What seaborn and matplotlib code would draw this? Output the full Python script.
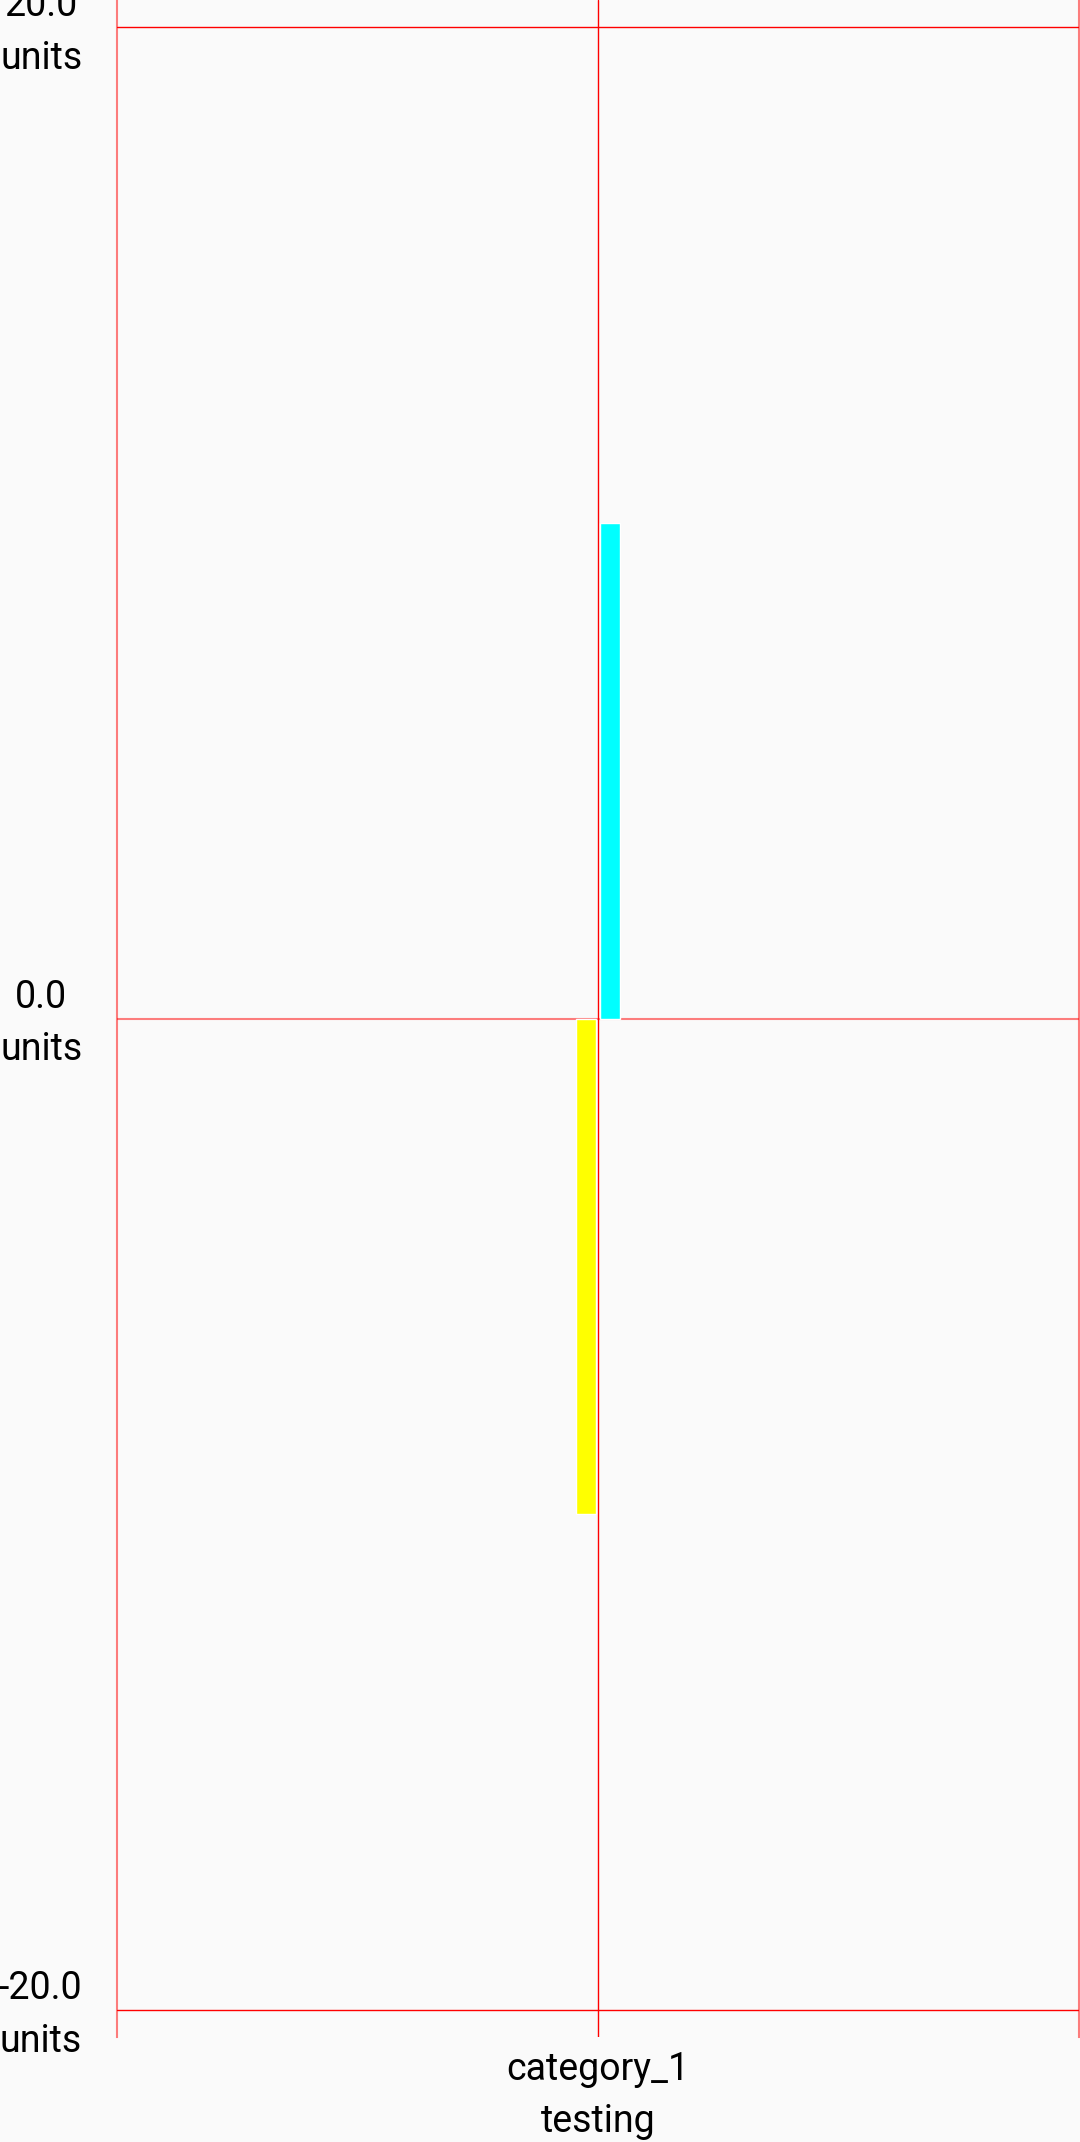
import pandas as pd
import matplotlib
matplotlib.use("Agg")
import matplotlib.pyplot as plt
import matplotlib.transforms as mtransforms
import seaborn as sns

# data
categories = ["category_1"]
series_names = ["series_1", "series_2"]
series_values = [-10.0, 10.0]
series_colors = ["#FFFF00", "#00FFFF"]
y_ticks = [-20.0, 0.0, 20.0]
y_unit = "units"
x_sublabel = "testing"

BG = "#FAFAFA"
GRID = "#FF0000"


def main():
    df = pd.DataFrame(
        {
            "category": categories * len(series_names),
            "series": series_names,
            "value": series_values,
        }
    )

    sns.set_theme(style="white")
    plt.rcParams["font.family"] = ["Roboto", "DejaVu Sans"]

    fig = plt.figure(figsize=(10.8, 21.42), dpi=100, facecolor=BG)
    ax = fig.add_axes([117 / 1080, 105 / 2142, 962 / 1080, 2037 / 2142])
    ax.set_facecolor(BG)

    sns.barplot(
        data=df,
        x="category",
        y="value",
        hue="series",
        hue_order=series_names,
        palette=series_colors,
        saturation=1,
        width=0.05,
        gap=0.2,
        legend=False,
        ax=ax,
    )

    ax.set_xlim(-0.5, 0.5)
    ax.set_ylim(-20.545, 20.545)
    ax.set_yticks(y_ticks)
    ax.set_yticklabels([f"{v:.1f}\n{y_unit}" for v in y_ticks])
    ax.set_xticks(range(len(categories)))
    ax.set_xticklabels([f"{c}\n{x_sublabel}" for c in categories])
    ax.set_xlabel("")
    ax.set_ylabel("")
    ax.tick_params(axis="y", length=0, pad=25)
    ax.tick_params(axis="x", length=0, pad=10)

    for lab in ax.get_yticklabels() + ax.get_xticklabels():
        lab.set_multialignment("center")
        lab.set_linespacing(1.53)
        lab.set_fontsize(27)
        lab.set_color("black")
    # nudge the y labels down a little so the block sits on the tick
    shift = mtransforms.ScaledTranslation(0, -3.5 / 72, fig.dpi_scale_trans)
    for lab in ax.get_yticklabels():
        lab.set_verticalalignment("center")
        lab.set_transform(lab.get_transform() + shift)

    # red grid, zero line drawn separately in a lighter tone
    ax.set_axisbelow(True)
    ax.grid(True, axis="both", color=GRID, linewidth=1)
    for v, gl in zip(y_ticks, ax.yaxis.get_gridlines()):
        if v == 0:
            gl.set_visible(False)
    ax.axhline(0, color=GRID, alpha=0.5, linewidth=1.5, zorder=0.5)

    for side in ["top", "bottom"]:
        ax.spines[side].set_visible(False)
    for side in ["left", "right"]:
        ax.spines[side].set_color(GRID)
        ax.spines[side].set_alpha(0.5)
        ax.spines[side].set_linewidth(1.5)

    fig.savefig("out.png", dpi=100, facecolor=BG)


if __name__ == "__main__":
    main()
